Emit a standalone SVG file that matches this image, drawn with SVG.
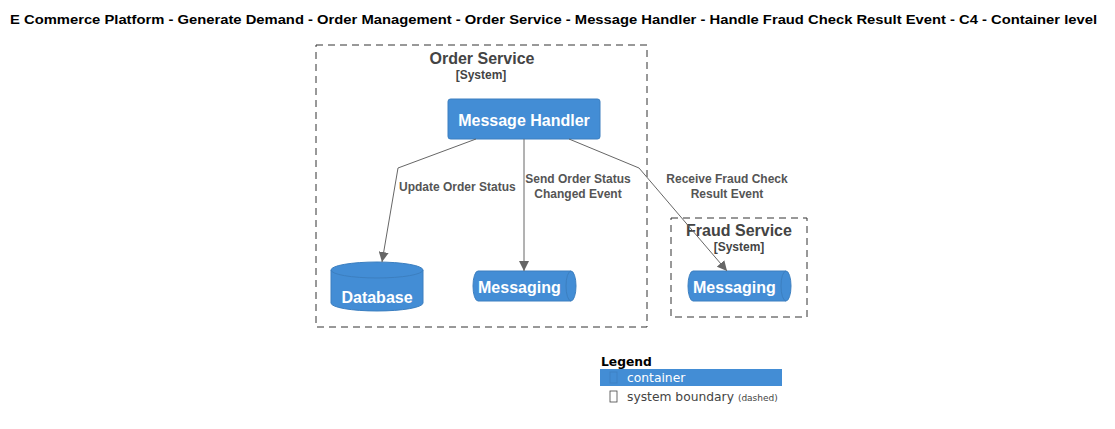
<svg xmlns="http://www.w3.org/2000/svg" width="1115" height="429" viewBox="0 0 1115 429">
<defs>
<marker id="arr" viewBox="0 0 10 10" refX="10" refY="5" markerWidth="10" markerHeight="10" markerUnits="userSpaceOnUse" orient="auto">
<path d="M0,0 L10,5 L0,10 Z" fill="#666"/>
</marker>
<style>
text{font-family:"Liberation Sans",Arial,sans-serif}
.title{font-size:13.5px;font-weight:bold;fill:#000}
.bnd{fill:none;stroke:#333;stroke-width:1;stroke-dasharray:7,5}
.btitle{font-size:16px;font-weight:bold;fill:#444;text-anchor:middle}
.btype{font-size:12px;font-weight:bold;fill:#444;text-anchor:middle}
.cont{fill:#438dd5;stroke:#3c7fc0;stroke-width:1}
.ctext{font-size:16px;font-weight:bold;fill:#fff}
.edge{fill:none;stroke:#666;stroke-width:1;marker-end:url(#arr)}
.elabel{font-size:12px;font-weight:bold;fill:#555}
.leg{font-family:"DejaVu Sans",Verdana,sans-serif;font-size:12.3px}
</style>
</defs>
<rect width="1115" height="429" fill="#fff"/>
<text class="title" x="10" y="24" textLength="1087" lengthAdjust="spacingAndGlyphs">E Commerce Platform - Generate Demand - Order Management - Order Service - Message Handler - Handle Fraud Check Result Event - C4 - Container level</text>

<g id="order-service">
<rect class="bnd" x="316" y="45" width="331" height="282"/>
<text class="btitle" x="482" y="64">Order Service</text>
<text class="btype" x="481" y="79">[System]</text>
</g>

<g id="fraud-service">
<rect class="bnd" x="671" y="218" width="136" height="99"/>
<text class="btitle" x="739" y="236">Fraud Service</text>
<text class="btype" x="739" y="251">[System]</text>
</g>

<g id="message-handler">
<rect class="cont" x="448" y="99" width="152" height="40" rx="2.5"/>
<text class="ctext" x="524" y="126" text-anchor="middle">Message Handler</text>
</g>

<g id="database">
<path class="cont" d="M331,270 A46,8 0 0 1 423,270 L423,303 A46,8 0 0 1 331,303 Z"/>
<path d="M331,270 A46,8 0 0 0 423,270" fill="none" stroke="#3c7fc0"/>
<text class="ctext" x="377" y="303" text-anchor="middle">Database</text>
</g>

<g id="order-messaging">
<path class="cont" d="M478,271 L571,271 A5,15 0 0 1 571,301 L478,301 A5,15 0 0 1 478,271 Z"/>
<path d="M571,271 A5,15 0 0 0 571,301" fill="none" stroke="#3c7fc0"/>
<text class="ctext" x="478" y="293">Messaging</text>
</g>

<g id="fraud-messaging">
<path class="cont" d="M693,271 L786,271 A5,15 0 0 1 786,301 L693,301 A5,15 0 0 1 693,271 Z"/>
<path d="M786,271 A5,15 0 0 0 786,301" fill="none" stroke="#3c7fc0"/>
<text class="ctext" x="693" y="293">Messaging</text>
</g>

<g id="connectors">
<path class="edge" d="M476,139 L398,168 L382,262"/>
<text class="elabel" x="399" y="191">Update Order Status</text>
<path class="edge" d="M524,139 L524,271"/>
<text class="elabel" x="578" y="183" text-anchor="middle">Send Order Status</text>
<text class="elabel" x="578" y="198" text-anchor="middle">Changed Event</text>
<path class="edge" d="M569,139 L639,168 L727,271"/>
<text class="elabel" x="727" y="183" text-anchor="middle">Receive Fraud Check</text>
<text class="elabel" x="727" y="198" text-anchor="middle">Result Event</text>
</g>

<g id="legend">
<text x="601" y="366" font-size="14" font-weight="bold" fill="#000" class="leg">Legend</text>
<rect x="600" y="369" width="182" height="17" fill="#438dd5"/>
<rect x="610" y="372" width="7" height="11" fill="none" stroke="#3c7fc0" stroke-width="0.8"/>
<text class="leg" x="627" y="382" fill="#fff">container</text>
<rect x="610" y="391" width="7" height="11" fill="none" stroke="#444" stroke-width="0.8"/>
<text class="leg" x="627" y="401" fill="#444">system boundary <tspan font-size="9">(dashed)</tspan></text>
</g>
</svg>
